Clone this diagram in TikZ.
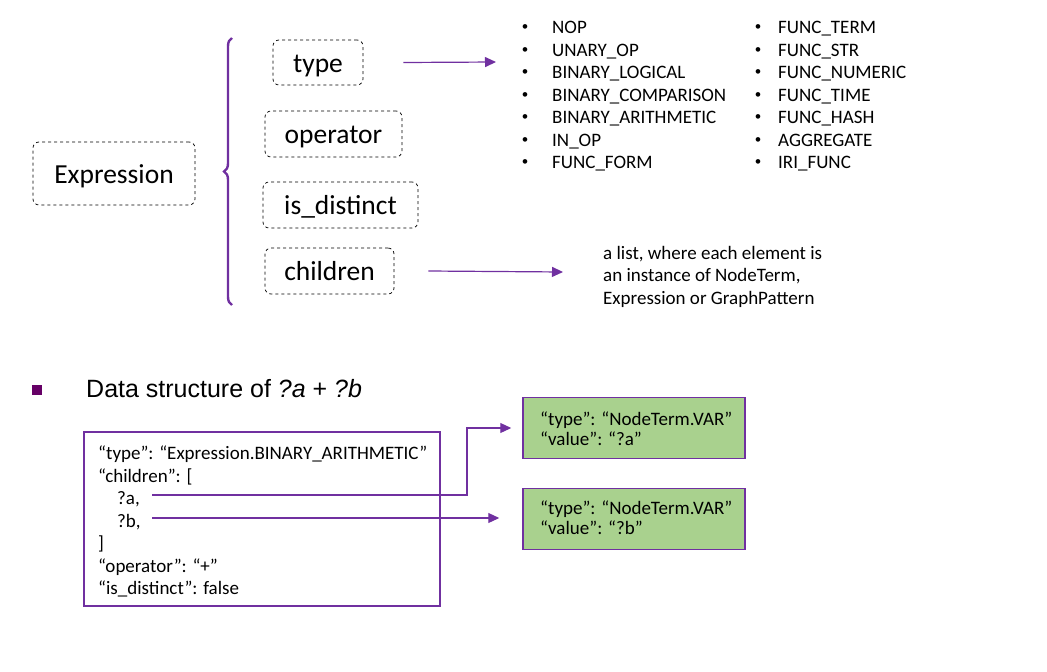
\documentclass[tikz,border=0pt]{standalone}
\usepackage{fontspec}
\setmainfont{Carlito}
\newfontfamily\arialf{Liberation Sans}
\usetikzlibrary{arrows.meta,decorations.pathreplacing}
\definecolor{pur}{HTML}{7030A0}
\definecolor{grn}{HTML}{A9D18E}
\definecolor{sq}{HTML}{660066}
\begin{document}
\begin{tikzpicture}[x=1pt,y=-1pt,
  fbox/.style={draw,dashed,rounded corners=6pt,inner sep=0pt,text height=19pt,text depth=0pt,font=\fontsize{27.5}{32}\selectfont,line width=0.7pt},
  conn/.style={draw=pur,line width=1.2pt,-{Triangle[length=11pt,width=10pt]}},
  lst/.style={anchor=north west,inner sep=0pt,align=left,font=\fontsize{19}{22.5}\selectfont},
  bul/.style={anchor=north west,inner sep=0pt,align=left,font=\arialf\fontsize{17}{22.5}\selectfont},
  gtxt/.style={anchor=north west,inner sep=0pt,align=left,font=\fontsize{19}{19.5}\selectfont},
  gbox/.style={draw=pur,fill=grn,line width=1.5pt,minimum width=222pt,minimum height=61pt,inner sep=0pt}]
\useasboundingbox (0,0) rectangle (1047,672);
% property boxes
\node[fbox,minimum width=162pt,minimum height=63pt] (expr) at (114,173.5) {Expression};
\node[fbox,minimum width=90pt,minimum height=45pt] (type) at (318,62.5) {type};
\node[fbox,minimum width=137pt,minimum height=46pt] (op) at (333.5,134) {operator};
\node[fbox,minimum width=155pt,minimum height=46pt] (dist) at (340.5,205) {is\_distinct};
\node[fbox,minimum width=129pt,minimum height=46pt] (chil) at (329.5,271) {children};
% brace
\coordinate (bt) at (232,38);
\coordinate (bb) at (232,305);
\draw[pur,line width=2.4pt,decorate,decoration={brace,amplitude=8pt}] (bb) -- (bt);
% lists
\coordinate (l1) at (496,62);
\coordinate (l2) at (563,272);
\draw[conn] (type.east)++(40,0) -- (l1);
\draw[conn] (chil.east)++(34,0) -- (l2);
\node[bul] (bul1) at (522,24.5) {\textbullet\\ \textbullet\\ \textbullet\\ \textbullet\\ \textbullet\\ \textbullet\\ \textbullet};
\node[lst] (col1) at (552,21) {NOP\\ UNARY\_OP\\ BINARY\_LOGICAL\\ BINARY\_COMPARISON\\ BINARY\_ARITHMETIC\\ IN\_OP\\ FUNC\_FORM};
\node[bul] (bul2) at (755,24.5) {\textbullet\\ \textbullet\\ \textbullet\\ \textbullet\\ \textbullet\\ \textbullet\\ \textbullet};
\node[lst] (col2) at (778,21) {FUNC\_TERM\\ FUNC\_STR\\ FUNC\_NUMERIC\\ FUNC\_TIME\\ FUNC\_HASH\\ AGGREGATE\\ IRI\_FUNC};
\node[lst] (desc) at (603,246) {a list, where each element is\\ an instance of NodeTerm,\\ Expression or GraphPattern};
% lower part
\node[fill=sq,minimum size=10pt,inner sep=0pt] (sqb) at (37,390) {};
\node[anchor=west,inner sep=0pt,font=\arialf\fontsize{25}{29}\selectfont] (head) at (86,389) {Data structure of \textit{?a} + \textit{?b}};
\node[draw=pur,line width=1.6pt,minimum width=356pt,minimum height=174pt,inner sep=0pt] (code) at (262,519) {};
\node[lst] (codet) at (98,446) {``type'': ``Expression.BINARY\_ARITHMETIC''\\ ``children'': [\\ \hspace{19pt}?a,\\ \hspace{19pt}?b,\\ ]\\ ``operator'': ``+''\\ ``is\_distinct'': false};
\node[gbox] (ga) at (634,428) {};
\node[gtxt] (gat) at (540,412) {``type'': ``NodeTerm.VAR''\\ ``value'': ``?a''};
\node[gbox] (gb) at (634,519) {};
\node[gtxt] (gbt) at (540,501) {``type'': ``NodeTerm.VAR''\\ ``value'': ``?b''};
\coordinate (sa) at (152,495);
\coordinate (sb) at (152,518);
\draw[conn] (sa) -- (467,495) |- ([xshift=-11pt]ga.west);
\draw[conn] (sb) -- ([xshift=-23pt]gb.west |- sb);
\end{tikzpicture}
\end{document}
